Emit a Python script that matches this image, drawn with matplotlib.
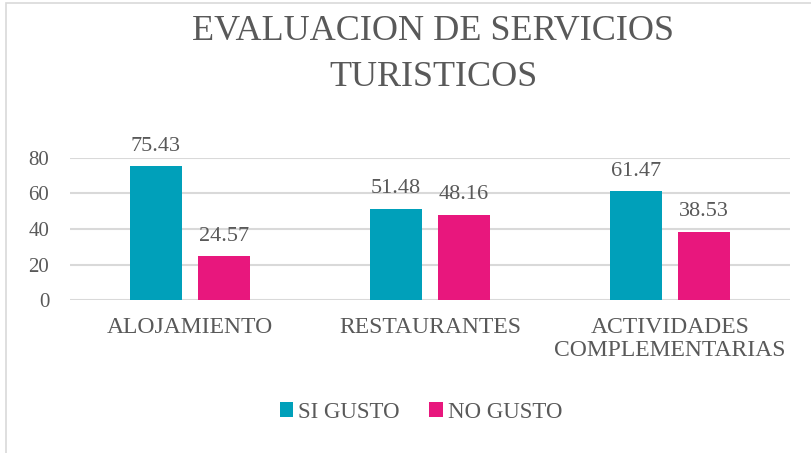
import numpy as np
import matplotlib.pyplot as plt
from matplotlib.patches import Rectangle

categories = ['ALOJAMIENTO', 'RESTAURANTES', 'ACTIVIDADES\nCOMPLEMENTARIAS']
si_gusto = [75.43, 51.48, 61.47]
no_gusto = [24.57, 48.16, 38.53]
yticks = [0, 20, 40, 60, 80]

teal = '#00A0BA'
pink = '#E8177D'
grey_text = '#595959'
grid_col = '#D9D9D9'

plt.rcParams['font.family'] = ['Liberation Serif', 'DejaVu Serif']

fig = plt.figure(figsize=(8.12, 4.53), dpi=100)
ax = fig.add_axes([70 / 812, 1 - 300 / 453, 720 / 812, 142 / 453])

x = np.arange(len(categories))
w = 0.22
off = 0.142
b1 = ax.bar(x - off, si_gusto, w, color=teal, label='SI GUSTO', zorder=3)
b2 = ax.bar(x + off, no_gusto, w, color=pink, label='NO GUSTO', zorder=3)

for bars, vals in ((b1, si_gusto), (b2, no_gusto)):
    for r, v in zip(bars, vals):
        ax.annotate(f'{v:.2f}', (r.get_x() + r.get_width() / 2, v),
                    xytext=(0, 11), textcoords='offset points',
                    ha='center', va='baseline', fontsize=16, color=grey_text)

ax.set_xlim(-0.5, 2.5)
ax.set_ylim(0, 80)
ax.set_yticks(yticks)
ax.set_xticks(x)
ax.set_xticklabels(categories, fontsize=17, color=grey_text, linespacing=1.15)
ax.tick_params(axis='y', length=0, pad=15, labelsize=15, labelcolor=grey_text)
ax.tick_params(axis='x', length=0, pad=12)
ax.grid(axis='y', color=grid_col, linewidth=1.5, zorder=0)
for s in ax.spines.values():
    s.set_visible(False)

fig.text(433 / 812, 1 - 31 / 453, 'EVALUACION DE SERVICIOS', ha='center', va='center',
         fontsize=26, color=grey_text)
fig.text(433 / 812, 1 - 77 / 453, 'TURISTICOS', ha='center', va='center',
         fontsize=26, color=grey_text)

leg = fig.legend(loc='center', bbox_to_anchor=(421 / 812, 1 - 412 / 453), ncol=2,
                 frameon=False, fontsize=16.5, handlelength=0.6, handleheight=0.6,
                 handletextpad=0.2, columnspacing=1.3)
for t in leg.get_texts():
    t.set_color(grey_text)

fig.add_artist(Rectangle((6 / 812, -0.1), 1.2, 1.1 - 3 / 453, transform=fig.transFigure,
                         fill=False, edgecolor=grid_col, linewidth=1.2))

fig.savefig('out.png', dpi=100)
